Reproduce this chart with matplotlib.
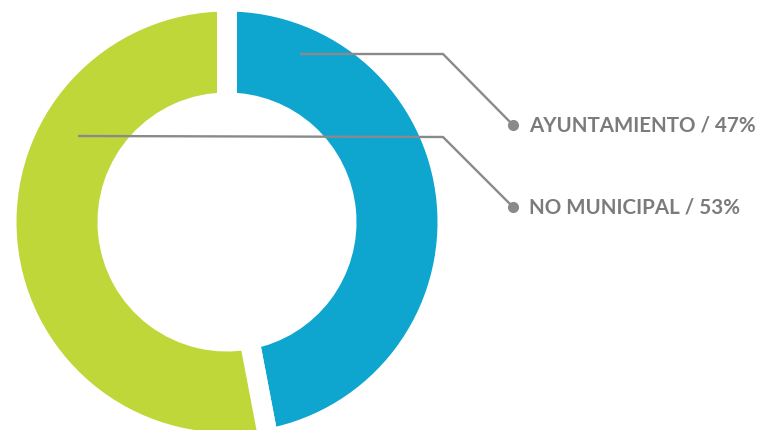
import matplotlib.pyplot as plt

# share of the two groups
labels = ['AYUNTAMIENTO', 'NO MUNICIPAL']
values = [47, 53]
colors = ['#0ea6cf', '#c0d73a']

# leader lines: start inside the ring, elbow, end dot (pixel coords)
leader_start = [(300, 55), (78, 137)]
leader_elbow = [(443, 55), (443, 138)]
leader_end = [(513, 126), (513, 208)]

W, H = 758, 431
cx, cy = 227, 223
R, r = 210.5, 129.5
gap = 20  # white gap between slices, px

fig = plt.figure(figsize=(W / 100, H / 100), dpi=100)
ax = fig.add_axes([0, 0, 1, 1])

# white edge eats gap/2 on every side, so enlarge the ring by that much
ax.pie(values, colors=colors, center=(cx, cy), radius=R + gap / 2,
       startangle=-90, counterclock=True,
       wedgeprops=dict(width=R - r + gap, edgecolor='white',
                       linewidth=gap * 72 / 100, joinstyle='miter'))

ax.set_xlim(0, W)
ax.set_ylim(H, 0)
ax.set_aspect('equal')
ax.axis('off')

line_col = '#8a8a8c'
text_col = '#7b7b7e'
for lab, v, s, e, d in zip(labels, values, leader_start, leader_elbow, leader_end):
    ax.plot([s[0], e[0], d[0]], [s[1], e[1], d[1]], color=line_col, lw=1.7,
            solid_capstyle='butt', zorder=5)
    ax.plot(d[0], d[1], 'o', color=line_col, ms=7, zorder=6)
    ax.text(d[0] + 16, d[1], f'{lab} / {v}%', va='center', ha='left',
            fontsize=14.8, fontweight='bold', family=['Lato', 'DejaVu Sans'],
            color=text_col)

fig.savefig('out.png', dpi=100)
